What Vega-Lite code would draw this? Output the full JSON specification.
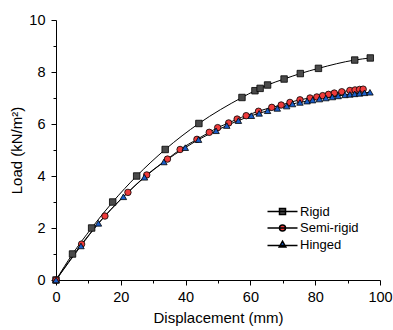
{
  "$schema": "https://vega.github.io/schema/vega-lite/v6.json",
  "width": 324,
  "height": 260,
  "autosize": {"type": "none"},
  "padding": {"left": 56, "top": 20, "right": 13, "bottom": 50},
  "config": {
    "font": "Liberation Sans",
    "view": {"stroke": null},
    "axis": {"grid": false, "domainColor": "black", "tickColor": "black", "labelColor": "black", "titleColor": "black", "labelFontSize": 14.5, "titleFontSize": 15, "titleFontWeight": "normal", "labelFont": "Liberation Sans", "titleFont": "Liberation Sans"}
  },
  "data": {"values": [
    {"series": "Rigid", "x": 0, "y": 0},
    {"series": "Rigid", "x": 5.1, "y": 1.0},
    {"series": "Rigid", "x": 11, "y": 2.0},
    {"series": "Rigid", "x": 17.5, "y": 3.0},
    {"series": "Rigid", "x": 24.9, "y": 4.0},
    {"series": "Rigid", "x": 33.7, "y": 5.02},
    {"series": "Rigid", "x": 44.1, "y": 6.02},
    {"series": "Rigid", "x": 57.4, "y": 7.02},
    {"series": "Rigid", "x": 61.4, "y": 7.28},
    {"series": "Rigid", "x": 63.0, "y": 7.37},
    {"series": "Rigid", "x": 65.3, "y": 7.5},
    {"series": "Rigid", "x": 70.4, "y": 7.73},
    {"series": "Rigid", "x": 75.4, "y": 7.94},
    {"series": "Rigid", "x": 81.0, "y": 8.14},
    {"series": "Rigid", "x": 92.2, "y": 8.46},
    {"series": "Rigid", "x": 97.0, "y": 8.54},
    {"series": "Semi-rigid", "x": 0, "y": 0},
    {"series": "Semi-rigid", "x": 7.9, "y": 1.38},
    {"series": "Semi-rigid", "x": 15.1, "y": 2.46},
    {"series": "Semi-rigid", "x": 22.2, "y": 3.37},
    {"series": "Semi-rigid", "x": 28.0, "y": 4.04},
    {"series": "Semi-rigid", "x": 34.4, "y": 4.65},
    {"series": "Semi-rigid", "x": 38.3, "y": 5.02},
    {"series": "Semi-rigid", "x": 43.5, "y": 5.41},
    {"series": "Semi-rigid", "x": 47.3, "y": 5.68},
    {"series": "Semi-rigid", "x": 49.9, "y": 5.86},
    {"series": "Semi-rigid", "x": 53.3, "y": 6.04},
    {"series": "Semi-rigid", "x": 55.9, "y": 6.19},
    {"series": "Semi-rigid", "x": 58.7, "y": 6.32},
    {"series": "Semi-rigid", "x": 62.5, "y": 6.49},
    {"series": "Semi-rigid", "x": 66.6, "y": 6.64},
    {"series": "Semi-rigid", "x": 69.5, "y": 6.73},
    {"series": "Semi-rigid", "x": 72.2, "y": 6.83},
    {"series": "Semi-rigid", "x": 75.3, "y": 6.93},
    {"series": "Semi-rigid", "x": 78.4, "y": 7.0},
    {"series": "Semi-rigid", "x": 80.5, "y": 7.04},
    {"series": "Semi-rigid", "x": 82.3, "y": 7.09},
    {"series": "Semi-rigid", "x": 84.1, "y": 7.14},
    {"series": "Semi-rigid", "x": 85.9, "y": 7.19},
    {"series": "Semi-rigid", "x": 88.2, "y": 7.24},
    {"series": "Semi-rigid", "x": 90.7, "y": 7.29},
    {"series": "Semi-rigid", "x": 92.3, "y": 7.31},
    {"series": "Semi-rigid", "x": 93.7, "y": 7.33},
    {"series": "Semi-rigid", "x": 94.8, "y": 7.34},
    {"series": "Hinged", "x": 0, "y": 0},
    {"series": "Hinged", "x": 7.7, "y": 1.31},
    {"series": "Hinged", "x": 13.1, "y": 2.18},
    {"series": "Hinged", "x": 20.8, "y": 3.2},
    {"series": "Hinged", "x": 27.3, "y": 3.95},
    {"series": "Hinged", "x": 33.3, "y": 4.54},
    {"series": "Hinged", "x": 39.9, "y": 5.09},
    {"series": "Hinged", "x": 44.0, "y": 5.4},
    {"series": "Hinged", "x": 49.4, "y": 5.74},
    {"series": "Hinged", "x": 52.7, "y": 5.94},
    {"series": "Hinged", "x": 56.3, "y": 6.13},
    {"series": "Hinged", "x": 60.3, "y": 6.32},
    {"series": "Hinged", "x": 62.7, "y": 6.41},
    {"series": "Hinged", "x": 65.3, "y": 6.51},
    {"series": "Hinged", "x": 68.3, "y": 6.6},
    {"series": "Hinged", "x": 71.2, "y": 6.69},
    {"series": "Hinged", "x": 73.0, "y": 6.77},
    {"series": "Hinged", "x": 75.3, "y": 6.83},
    {"series": "Hinged", "x": 77.5, "y": 6.88},
    {"series": "Hinged", "x": 79.2, "y": 6.92},
    {"series": "Hinged", "x": 81.3, "y": 6.96},
    {"series": "Hinged", "x": 83.3, "y": 7.0},
    {"series": "Hinged", "x": 85.3, "y": 7.04},
    {"series": "Hinged", "x": 87.1, "y": 7.08},
    {"series": "Hinged", "x": 89.2, "y": 7.12},
    {"series": "Hinged", "x": 90.7, "y": 7.14},
    {"series": "Hinged", "x": 92.2, "y": 7.16},
    {"series": "Hinged", "x": 93.7, "y": 7.18},
    {"series": "Hinged", "x": 95.2, "y": 7.2},
    {"series": "Hinged", "x": 96.9, "y": 7.22}
  ]},
  "encoding": {
    "x": {"field": "x", "type": "quantitative", "scale": {"domain": [0, 100], "nice": false},
      "axis": {"title": "Displacement (mm)", "values": [0,10,20,30,40,50,60,70,80,90,100], "labelExpr": "datum.value % 20 === 0 ? datum.label : ''", "tickSize": {"condition": {"test": "datum.value % 20 === 0", "value": 5}, "value": 3}, "labelPadding": 5, "titlePadding": 7, "labelFlush": false}},
    "y": {"field": "y", "type": "quantitative", "scale": {"domain": [0, 10], "nice": false},
      "axis": {"title": "Load (kN/m²)", "values": [0,1,2,3,4,5,6,7,8,9,10], "labelExpr": "datum.value % 2 === 0 ? datum.label : ''", "tickSize": {"condition": {"test": "datum.value % 2 === 0", "value": 5}, "value": 3}, "labelPadding": 6, "titlePadding": 4, "labelFlush": false}}
  },
  "layer": [
    {
      "mark": {"type": "line", "interpolate": "monotone", "color": "black", "strokeWidth": 1},
      "encoding": {"detail": {"field": "series"}}
    },
    {
      "mark": {"type": "point", "filled": true, "opacity": 1, "stroke": "black", "strokeWidth": 0.8, "size": 42},
      "encoding": {
        "shape": {"field": "series", "type": "nominal", "scale": {"domain": ["Rigid", "Semi-rigid", "Hinged"], "range": ["square", "circle", "triangle-up"]}, "legend": null},
        "fill": {"field": "series", "type": "nominal", "scale": {"domain": ["Rigid", "Semi-rigid", "Hinged"], "range": ["#4a4a4a", "#ee3b3b", "#1a5dc8"]}, "legend": null}
      }
    },
    {
      "transform": [{"filter": "false"}],
      "mark": {"type": "point", "filled": true, "opacity": 1, "stroke": "black", "strokeWidth": 1},
      "encoding": {
        "shape": {"field": "series", "type": "nominal", "scale": {"domain": ["Rigid", "Semi-rigid", "Hinged"], "range": [
          "M-5,0H5M-1,-1H1V1H-1Z",
          "M-5,0H5M-1,0A1,1 0 1,0 1,0A1,1 0 1,0 -1,0Z",
          "M-5,0.3H5M0,-1.1L1.1,0.8H-1.1Z"
        ]}, "legend": {"title": null, "orient": "none", "legendX": 220, "legendY": 185, "symbolSize": 36, "labelFontSize": 13, "labelOffset": 11, "rowPadding": 2.5, "padding": 0, "labelColor": "black",
          "encode": {"symbols": {"update": {"stroke": {"value": "black"}, "strokeWidth": {"value": 1}, "opacity": {"value": 1}}}}}},
        "fill": {"field": "series", "type": "nominal", "scale": {"domain": ["Rigid", "Semi-rigid", "Hinged"], "range": ["#4a4a4a", "#ee3b3b", "#1a5dc8"]}, "legend": {"title": null, "orient": "none", "legendX": 220, "legendY": 185, "symbolSize": 36, "labelFontSize": 13, "labelOffset": 11, "rowPadding": 2.5, "padding": 0, "labelColor": "black",
          "encode": {"symbols": {"update": {"stroke": {"value": "black"}, "strokeWidth": {"value": 1}, "opacity": {"value": 1}}}}}}
      }
    }
  ],
  "resolve": {"scale": {"shape": "independent", "fill": "independent"}}
}
